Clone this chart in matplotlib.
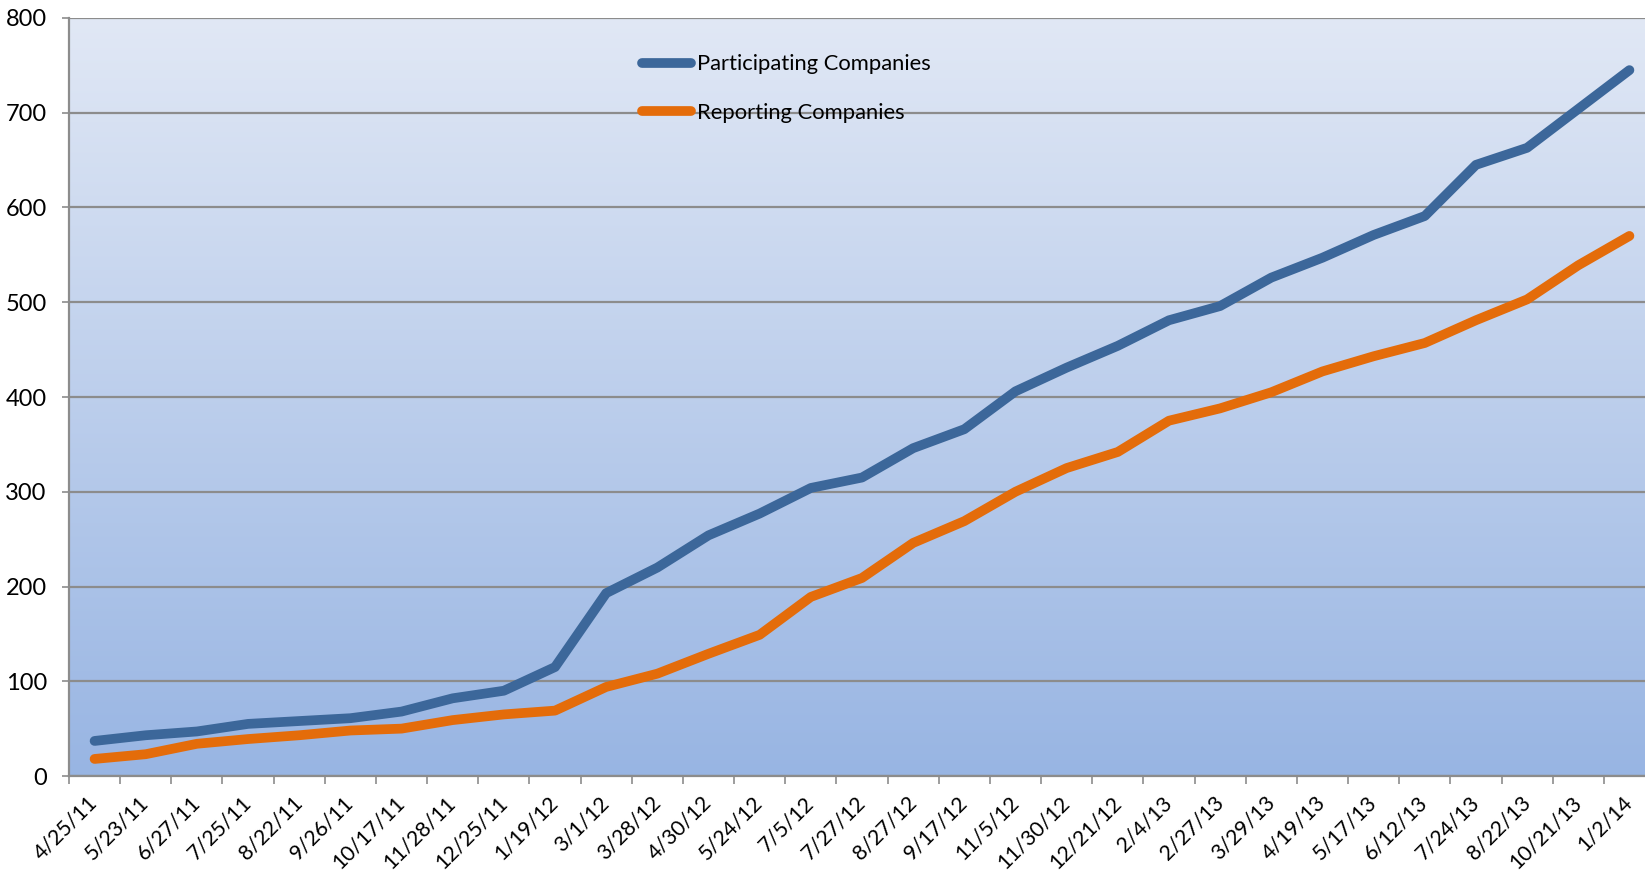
import numpy as np
import matplotlib
matplotlib.use("Agg")
import matplotlib.pyplot as plt
from matplotlib.colors import LinearSegmentedColormap

# ---------------------------------------------------------------- data ---- #
dates = [
    "4/25/11", "5/23/11", "6/27/11", "7/25/11", "8/22/11", "9/26/11",
    "10/17/11", "11/28/11", "12/25/11", "1/19/12", "3/1/12", "3/28/12",
    "4/30/12", "5/24/12", "7/5/12", "7/27/12", "8/27/12", "9/17/12",
    "11/5/12", "11/30/12", "12/21/12", "2/4/13", "2/27/13", "3/29/13",
    "4/19/13", "5/17/13", "6/12/13", "7/24/13", "8/22/13", "10/21/13",
    "1/2/14",
]
participating = [
    37, 43, 47, 55, 58, 61, 68, 82, 90, 115, 193, 220, 254, 277, 304, 315,
    346, 366, 406, 431, 454, 481, 496, 526, 547, 571, 591, 645, 663, 704, 745,
]
reporting = [
    18, 23, 34, 39, 43, 48, 50, 59, 65, 69, 94, 108, 129, 149, 189, 209,
    246, 269, 300, 325, 342, 375, 388, 405, 427, 443, 457, 481, 503, 539, 570,
]
yticks = [0, 100, 200, 300, 400, 500, 600, 700, 800]

BLUE = "#3C679A"
ORANGE = "#E46C0A"
GRID = "#8C8C8C"

plt.rcParams["font.family"] = ["Lato", "DejaVu Sans"]

fig = plt.figure(figsize=(16.45, 8.72), dpi=100)
ax = fig.add_axes([69 / 1645, 96 / 872, (1655 - 69) / 1645, (776 - 18) / 872])

n = len(dates)
x = np.arange(n)

# фон с вертикальным градиентом
cmap = LinearSegmentedColormap.from_list("bg", ["#98B5E3", "#E1E8F5"])
grad = np.linspace(0, 1, 256).reshape(-1, 1)
ax.imshow(grad, cmap=cmap, aspect="auto", origin="lower",
          extent=[-0.5, n - 0.5, 0, 800], zorder=0)

ax.plot(x, participating, color=BLUE, lw=7, solid_capstyle="round",
        solid_joinstyle="round", label="Participating Companies", zorder=3)
ax.plot(x, reporting, color=ORANGE, lw=7, solid_capstyle="round",
        solid_joinstyle="round", label="Reporting Companies", zorder=3)

ax.set_xlim(-0.5, n - 0.5)
ax.set_ylim(0, 800)

ax.set_yticks(yticks)
ax.yaxis.grid(True, color=GRID, lw=1.6)
ax.set_axisbelow(True)
ax.tick_params(axis="y", length=5, width=1.2, color=GRID, pad=11, labelsize=17)

# подписи по центрам категорий, деления на границах
ax.set_xticks(x)
ax.set_xticklabels(dates, rotation=45, ha="right", va="center",
                   rotation_mode="anchor", fontsize=15.3)
ax.tick_params(axis="x", which="major", length=0, pad=17)
ax.set_xticks(np.arange(-0.5, n, 1), minor=True)
ax.tick_params(axis="x", which="minor", length=6, width=1.2, color=GRID)

for side in ("top", "right"):
    ax.spines[side].set_visible(False)
for side in ("left", "bottom"):
    ax.spines[side].set_color(GRID)
    ax.spines[side].set_linewidth(1.6)

leg = ax.legend(loc="upper left", bbox_to_anchor=(0.361, 0.952),
                frameon=False, fontsize=15.8, handlelength=2.25,
                handletextpad=0.28, labelspacing=1.3, borderpad=0,
                borderaxespad=0)

fig.savefig("out.png", dpi=100)
